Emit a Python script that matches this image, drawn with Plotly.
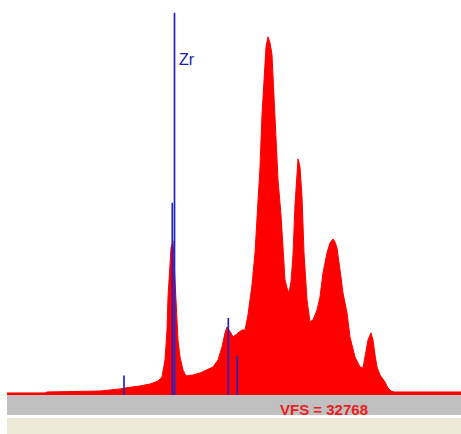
import plotly.graph_objects as go

# Spectrum (channel, counts)
channels = [7, 45, 47, 100, 120, 125, 140, 150, 158, 162, 165, 167, 168, 170, 171, 173,
            175, 177, 178, 180, 183, 186, 193, 200, 207, 213, 218, 222, 225, 227, 231,
            233, 238, 242, 245, 248, 250, 252, 255, 257, 260, 262, 264, 266, 268, 270,
            272, 274, 276, 278, 281, 283, 285, 287, 289, 291, 293, 295, 297, 298, 300,
            302, 304, 307, 310, 313, 317, 320, 323, 327, 330, 333, 335, 337, 340, 343,
            347, 350, 355, 360, 363, 365, 368, 371, 373, 375, 377, 380, 385, 388, 391,
            394, 461]
counts = [170, 170, 250, 330, 500, 580, 750, 910, 1160, 1490, 2900, 5390, 8130, 10370,
          12200, 12780, 9540, 6800, 4560, 3150, 2080, 1580, 1660, 1830, 2080, 2320, 2900,
          3980, 5150, 5640, 5150, 4810, 5150, 5390, 5390, 6640, 7890, 9130, 11790, 14360,
          18920, 23240, 26560, 28880, 29710, 29220, 28220, 24490, 22000, 17850, 14940,
          12040, 9550, 8880, 8470, 9380, 11620, 15770, 19090, 19590, 18920, 16430, 11790,
          7890, 6060, 6230, 7060, 8130, 10130, 11790, 12620, 12950, 12700, 12200, 10380,
          8470, 6810, 4810, 3150, 2320, 2240, 3070, 4570, 5150, 4570, 3320, 2320, 1660,
          1080, 580, 330, 250, 250]

# Element marker lines (channel, height)
marker_channels = [124, 172.3, 174.5, 228.3, 237.3]
marker_heights = [1620, 15940, 31710, 6390, 3240]
marker_label = "Zr"
label_channel = 176.5
label_counts = 27800

vfs_text = "VFS = 32768"
full_scale = 32768

fig = go.Figure()

fig.add_trace(go.Scatter(
    x=channels, y=counts, mode="lines", fill="tozeroy",
    fillcolor="#ff0000", line=dict(color="#ff0000", width=1),
    hoverinfo="skip", showlegend=False))

mx, my = [], []
for c, h in zip(marker_channels, marker_heights):
    mx += [c, c, None]
    my += [0, h, None]
fig.add_trace(go.Scatter(
    x=mx, y=my, mode="lines", line=dict(color="#2424c4", width=1.7),
    hoverinfo="skip", showlegend=False))

fig.add_annotation(x=label_channel, y=label_counts, text=marker_label,
                   xanchor="left", yanchor="middle", showarrow=False,
                   font=dict(family="Arial, Liberation Sans", size=16, color="#1c1ca4"))

# bottom bars
plot_h = 395
fig.add_shape(type="rect", xref="paper", yref="paper", x0=0, x1=1,
              y0=0, y1=-20 / plot_h, fillcolor="#c0c0c0", line_width=0, layer="below")
fig.add_shape(type="rect", xref="paper", yref="paper", x0=0, x1=1,
              y0=-23 / plot_h, y1=-39 / plot_h, fillcolor="#ece9d8", line_width=0, layer="below")

fig.add_annotation(xref="paper", yref="paper", x=(324 - 7) / 454, y=-14 / plot_h,
                   text="<b>" + vfs_text + "</b>", showarrow=False,
                   xanchor="center", yanchor="middle",
                   font=dict(family="Arial, Liberation Sans", size=15, color="#e82020"))

fig.update_layout(
    width=461, height=434,
    margin=dict(l=7, r=0, t=0, b=39, pad=0),
    paper_bgcolor="white", plot_bgcolor="white",
    xaxis=dict(range=[7, 461], visible=False, fixedrange=True),
    yaxis=dict(range=[0, full_scale], visible=False, fixedrange=True),
)

fig.write_html("out.html",
               config={"displayModeBar": False},
               post_script="document.body.style.margin='0';document.body.style.overflow='hidden';")
